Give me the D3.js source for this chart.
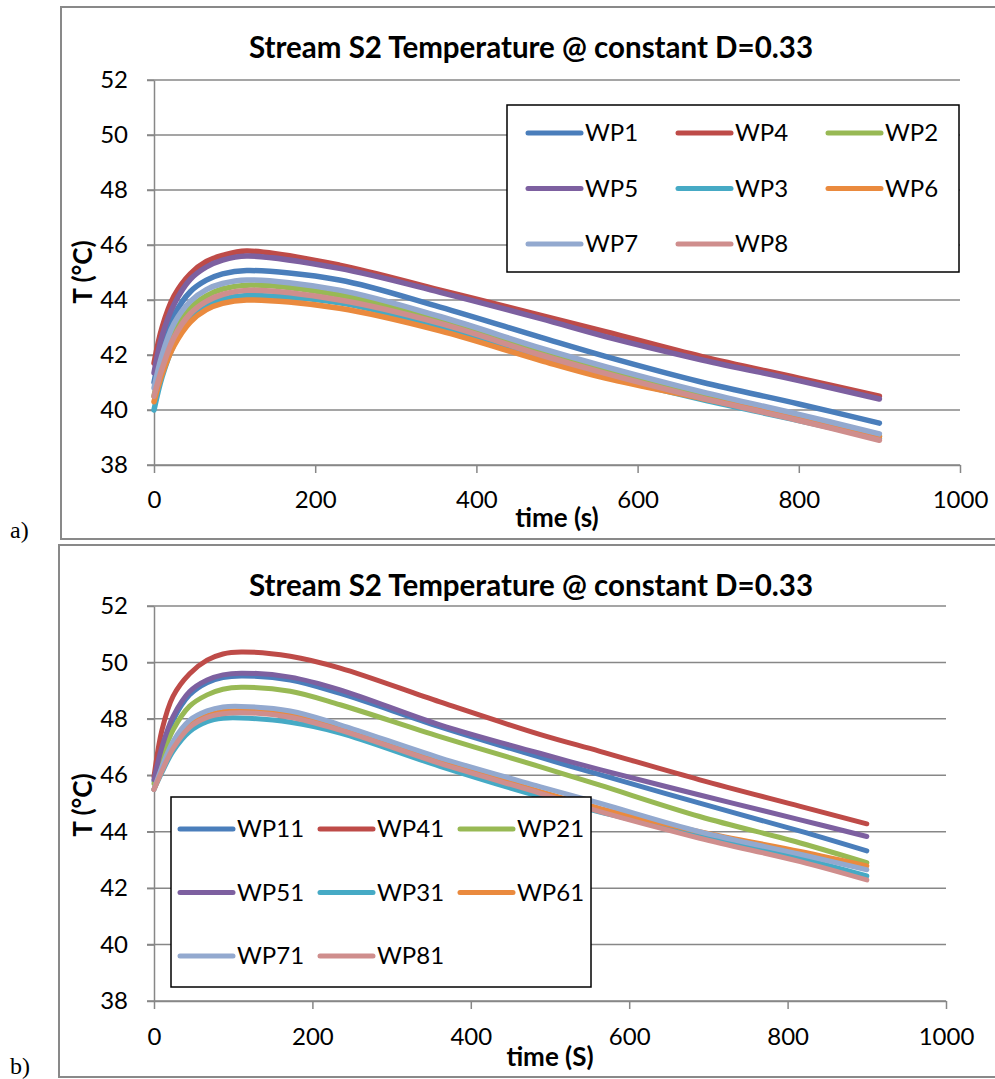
<!DOCTYPE html>
<html>
<head>
<meta charset="utf-8">
<script src="https://cdn.jsdelivr.net/npm/d3@7"></script>
<style>
  body { margin: 0; background: #fff; }
  svg text { font-family: Lato, "Open Sans", sans-serif; fill: #000; }
</style>
</head>
<body>
<script>
// chart a) data, time in s, temperature in C
const timeA = [0, 10, 25, 45, 65, 85, 115, 230, 355, 480, 560, 680, 800, 900];
const WP1 = [41.0, 42.3, 43.45, 44.3, 44.72, 44.95, 45.07, 44.73, 43.74, 42.64, 41.95, 41.01, 40.22, 39.52];
const WP4 = [41.7, 43.0, 44.15, 44.95, 45.4, 45.62, 45.78, 45.27, 44.36, 43.44, 42.85, 41.94, 41.16, 40.5];
const WP2 = [40.5, 41.7, 42.85, 43.7, 44.15, 44.4, 44.54, 44.18, 43.3, 42.15, 41.47, 40.56, 39.75, 39.05];
const WP5 = [41.35, 42.7, 43.85, 44.75, 45.2, 45.45, 45.6, 45.15, 44.28, 43.32, 42.67, 41.82, 41.07, 40.4];
const WP3 = [40.0, 41.2, 42.4, 43.35, 43.8, 44.03, 44.16, 43.9, 43.02, 41.9, 41.24, 40.38, 39.62, 38.97];
const WP6 = [40.3, 41.3, 42.35, 43.2, 43.65, 43.88, 44.0, 43.7, 42.88, 41.8, 41.16, 40.42, 39.7, 39.03];
const WP7 = [40.8, 42.0, 43.15, 43.95, 44.38, 44.6, 44.73, 44.36, 43.4, 42.25, 41.58, 40.66, 39.84, 39.13];
const WP8 = [40.5, 41.5, 42.65, 43.5, 43.95, 44.2, 44.35, 44.0, 43.15, 42.0, 41.33, 40.43, 39.62, 38.9];

// chart b) data
const timeB = [0, 10, 24, 45, 67, 87, 110, 172, 235, 361, 487, 563, 689, 816, 900];
const WP11 = [45.8, 46.9, 47.95, 48.85, 49.28, 49.46, 49.52, 49.38, 48.9, 47.72, 46.64, 46.02, 45.01, 44.02, 43.32];
const WP41 = [45.95, 47.6, 48.8, 49.6, 50.08, 50.3, 50.37, 50.22, 49.8, 48.6, 47.45, 46.85, 45.84, 44.9, 44.28];
const WP21 = [45.7, 46.6, 47.6, 48.45, 48.85, 49.05, 49.12, 48.98, 48.5, 47.37, 46.31, 45.65, 44.54, 43.6, 42.9];
const WP51 = [45.85, 47.0, 48.08, 48.97, 49.38, 49.56, 49.62, 49.48, 49.03, 47.79, 46.78, 46.2, 45.3, 44.42, 43.83];
const WP31 = [45.5, 46.1, 46.85, 47.55, 47.9, 48.02, 48.03, 47.88, 47.5, 46.32, 45.25, 44.7, 43.89, 43.06, 42.43];
const WP61 = [45.5, 46.2, 47.05, 47.8, 48.12, 48.26, 48.29, 48.13, 47.7, 46.52, 45.43, 44.83, 44.0, 43.3, 42.79];
const WP71 = [45.5, 46.3, 47.2, 47.95, 48.28, 48.42, 48.44, 48.28, 47.79, 46.62, 45.6, 45.01, 44.0, 43.2, 42.65];
const WP81 = [45.5, 46.15, 46.95, 47.7, 48.05, 48.18, 48.22, 48.06, 47.6, 46.42, 45.37, 44.71, 43.77, 42.94, 42.29];

const namesA = ["WP1", "WP4", "WP2", "WP5", "WP3", "WP6", "WP7", "WP8"];
const namesB = ["WP11", "WP41", "WP21", "WP51", "WP31", "WP61", "WP71", "WP81"];
const colors = ["#4A7EBB", "#BE4B48", "#98B954", "#7D60A0", "#46AAC5", "#EA8A3E", "#93A9CF", "#CF8E8D"];

const yTicks = [38, 40, 42, 44, 46, 48, 50, 52];
const xTicks = [0, 200, 400, 600, 800, 1000];
const title = "Stream S2 Temperature @ constant D=0.33";

const svg = d3.select("body").append("svg")
  .attr("width", 995)
  .attr("height", 1079);

function drawChart(o) {
  const g = svg.append("g");

  // outer frame (runs off the right edge like the source)
  g.append("rect")
    .attr("x", o.frame[0]).attr("y", o.frame[1])
    .attr("width", 1100).attr("height", o.frame[2] - o.frame[1])
    .attr("fill", "none").attr("stroke", "#898989").attr("stroke-width", 2);

  const x = d3.scaleLinear().domain([0, 1000]).range([154, o.right]);
  const y = d3.scaleLinear().domain([38, 52]).range([o.bottom, o.top]);

  // horizontal grid
  g.append("g").selectAll("line")
    .data(yTicks)
    .join("line")
    .attr("x1", 147).attr("x2", o.right)
    .attr("y1", (d) => y(d)).attr("y2", (d) => y(d))
    .attr("stroke", "#878787").attr("stroke-width", 1.5);

  const yAxis = g.append("g")
    .attr("transform", `translate(154,0)`)
    .call(d3.axisLeft(y).tickValues(yTicks).tickSize(7).tickSizeOuter(0).tickPadding(19));
  const xAxis = g.append("g")
    .attr("transform", `translate(0,${o.bottom})`)
    .call(d3.axisBottom(x).tickValues(xTicks).tickFormat(d3.format("d")).tickSize(8).tickSizeOuter(0));

  [yAxis, xAxis].forEach((a) => {
    a.selectAll("path, line").attr("stroke", "#878787").attr("stroke-width", 1.5);
    a.selectAll("text").style("font-size", "24px").attr("fill", "#000");
  });
  xAxis.selectAll("text").attr("y", o.xLabelOff).attr("dy", "0.35em");

  // series
  const line = d3.line()
    .x((d) => x(d[0]))
    .y((d) => y(d[1]))
    .curve(d3.curveCatmullRom.alpha(0.5));

  g.append("g").selectAll("path")
    .data(o.series)
    .join("path")
    .attr("d", (s) => line(o.time.map((t, i) => [t, s[i]])))
    .attr("fill", "none")
    .attr("stroke", (s, i) => colors[i])
    .attr("stroke-width", o.lw)
    .attr("stroke-linecap", "round")
    .attr("stroke-linejoin", "round");

  // titles
  g.append("text")
    .attr("x", 531).attr("y", o.titleY).attr("dy", "0.35em")
    .attr("text-anchor", "middle")
    .style("font-size", "29.5px").style("font-weight", "bold")
    .text(title);
  g.append("text")
    .attr("transform", `translate(83,${o.yTitleY}) rotate(-90)`)
    .attr("dy", "0.35em")
    .attr("text-anchor", "middle")
    .style("font-size", "26px").style("font-weight", "bold")
    .text("T (°C)");
  g.append("text")
    .attr("x", o.xTitle[0]).attr("y", o.xTitle[1]).attr("dy", "0.35em")
    .attr("text-anchor", "middle")
    .style("font-size", "26px").style("font-weight", "bold")
    .text(o.xTitleText);

  // legend
  const lg = o.legend;
  g.append("rect")
    .attr("x", lg.box[0]).attr("y", lg.box[1])
    .attr("width", lg.box[2] - lg.box[0]).attr("height", lg.box[3] - lg.box[1])
    .attr("fill", "#fff").attr("stroke", "#000").attr("stroke-width", 1.5);

  const item = g.append("g").selectAll("g")
    .data(o.names)
    .join("g")
    .attr("transform", (d, i) => `translate(${lg.x0 + (i % 3) * lg.dx},${lg.y0 + Math.floor(i / 3) * lg.dy})`);
  item.append("line")
    .attr("x1", 0).attr("x2", 53)
    .attr("stroke", (d, i) => colors[i])
    .attr("stroke-width", 5)
    .attr("stroke-linecap", "round");
  item.append("text")
    .attr("x", 57).attr("dy", "0.35em")
    .style("font-size", "24px")
    .text((d) => d);

  // panel letter
  g.append("text")
    .attr("x", 10).attr("y", o.letterY).attr("dy", "0.35em")
    .style("font-family", "'Liberation Serif', serif")
    .style("font-size", "24px")
    .text(o.letter);
}

drawChart({
  frame: [61, 7, 539],
  top: 80, bottom: 465, right: 960, lw: 5.5,
  time: timeA, series: [WP1, WP4, WP2, WP5, WP3, WP6, WP7, WP8], names: namesA,
  titleY: 48, yTitleY: 272, xTitle: [557, 518], xTitleText: "time (s)", xLabelOff: 35,
  legend: { box: [507, 105, 959, 272], x0: 528, y0: 133, dx: 150, dy: 55.5 },
  letter: "a)", letterY: 530
});

drawChart({
  frame: [59, 545, 1077],
  top: 606, bottom: 1001, right: 946, lw: 5,
  time: timeB, series: [WP11, WP41, WP21, WP51, WP31, WP61, WP71, WP81], names: namesB,
  titleY: 586, yTitleY: 805, xTitle: [550, 1057], xTitleText: "time (S)", xLabelOff: 36,
  legend: { box: [171, 797, 591, 987], x0: 180, y0: 829, dx: 140, dy: 63.5 },
  letter: "b)", letterY: 1066
});
</script>
</body>
</html>
